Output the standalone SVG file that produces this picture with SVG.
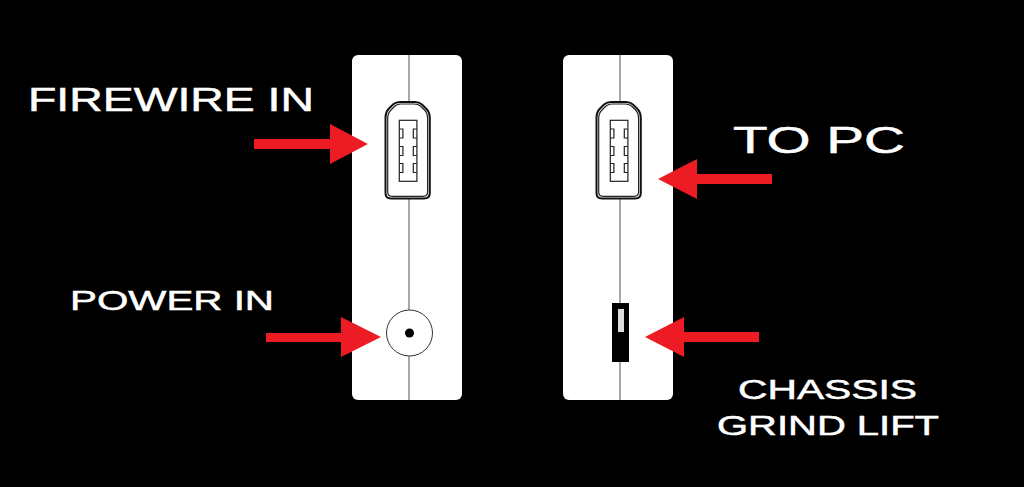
<svg xmlns="http://www.w3.org/2000/svg" width="1024" height="487" viewBox="0 0 1024 487">
<defs>
<style>
.panel{fill:#fff}
.seam{stroke:#8c8c8c;stroke-width:1.5;fill:none}
.lbl{fill:#fff;stroke:#fff;stroke-width:.5;font-family:"Liberation Sans",Arial,sans-serif;font-weight:400}
.arr{fill:#ed1c24}
.ln{fill:none;stroke:#222;stroke-width:1.2}
.outer{fill:#fff;stroke:#111;stroke-width:2}
</style>
<g id="fw">
<path class="outer" d="M385.500 118 Q385.500 112 389 108.500 L393 104.500 Q396 102 400 102 L415 102 Q419 102 422 104.500 L426 108.500 Q429.800 112 429.800 118 L429.800 193 Q429.800 198.500 424 198.500 L391 198.500 Q385.500 198.500 385.500 193 Z"/>
<path class="ln" d="M387.700 118.500 Q387.700 113 391 110 L395 106 Q397.500 104 401 104 L414 104 Q418 104 420.500 106 L424.500 110 Q427.600 113 427.600 118.500 L427.600 192 Q427.600 196.300 423 196.300 L392 196.300 Q387.700 196.300 387.700 192 Z"/>
<rect class="ln" x="399.300" y="120.300" width="17.600" height="61"/>
<path class="ln" d="M399.300 129h3.600v9h-3.600M399.300 146.500h3.600v9h-3.600M399.300 163.500h3.600v9h-3.600M416.900 129h-3.600v9h3.600M416.900 146.500h-3.600v9h3.600M416.900 163.500h-3.600v9h3.600"/>
</g>
</defs>
<rect width="1024" height="487" fill="#000"/>
<g id="panel-left">
<rect class="panel" x="352" y="55" width="110" height="345" rx="6"/>
<path class="seam" d="M409 55V102M409 199V310M409 356V400"/>
<use href="#fw"/>
<circle cx="409.500" cy="333" r="23" fill="#fff" stroke="#333" stroke-width="1"/>
<circle cx="409.500" cy="333" r="4.500" fill="#000"/>
</g>
<g id="panel-right">
<rect class="panel" x="563" y="55" width="110" height="345" rx="6"/>
<path class="seam" d="M620 55V102M620 199V303M620 362V400"/>
<use href="#fw" x="211"/>
<rect x="612" y="303" width="17" height="59" fill="#000"/>
<rect x="618" y="309" width="6" height="23" fill="#ddd"/>
</g>
<g id="connectors">
<path class="arr" d="M254 139H330V124L368 144L330 164V149H254Z"/>
<path class="arr" d="M266 333H341V317L381 337L341 357V342H266Z"/>
<path class="arr" d="M772 174H697V159L658 179L697 199V184H772Z"/>
<path class="arr" d="M759 332H684V317L645 337L684 357V342H759Z"/>
</g>
<g id="labels">
<text class="lbl" x="28" y="111" font-size="33" textLength="286" lengthAdjust="spacingAndGlyphs">FIREWIRE IN</text>
<text class="lbl" x="733" y="153" font-size="36" textLength="172" lengthAdjust="spacingAndGlyphs">TO PC</text>
<text class="lbl" x="70" y="310" font-size="28" textLength="204" lengthAdjust="spacingAndGlyphs">POWER IN</text>
<text class="lbl" x="738" y="399" font-size="27" textLength="179" lengthAdjust="spacingAndGlyphs">CHASSIS</text>
<text class="lbl" x="717" y="435" font-size="28" textLength="222" lengthAdjust="spacingAndGlyphs">GRIND LIFT</text>
</g>
</svg>
